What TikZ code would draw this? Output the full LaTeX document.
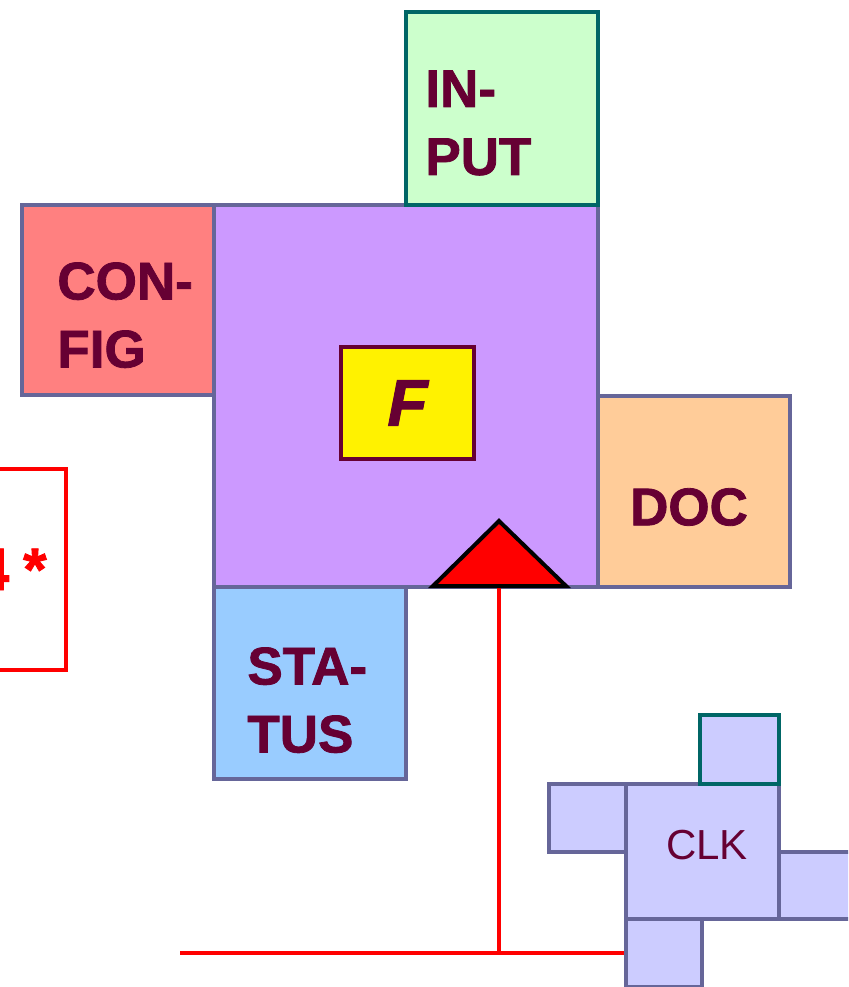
\documentclass[tikz,border=0pt]{standalone}
\usepackage{fontspec}
\setmainfont{Liberation Sans}[BoldFeatures={FakeBold=1.5}, BoldItalicFeatures={FakeBold=1.5}]
\usetikzlibrary{positioning}
\definecolor{slate}{HTML}{666699}
\definecolor{teal}{HTML}{006666}
\definecolor{maroon}{HTML}{660033}
\definecolor{lilac}{HTML}{CC99FF}
\definecolor{mint}{HTML}{CCFFCC}
\definecolor{salmon}{HTML}{FF8080}
\definecolor{peach}{HTML}{FFCC99}
\definecolor{sky}{HTML}{99CCFF}
\definecolor{lavender}{HTML}{CCCCFF}

\begin{document}
\begin{tikzpicture}[
  x=0.5pt, y=-0.5pt,
  blk/.style={draw=slate, line width=2pt, anchor=north west, inner sep=0pt, minimum width=96pt, minimum height=96pt},
  lbl/.style={font=\fontsize{26.5}{34}\selectfont\bfseries, text=maroon, align=left, inner sep=0pt},
  clkbox/.style={blk, fill=lavender},
  sig/.style={draw=red, line width=2pt},
]
\clip (0,0) rectangle (848,987);
% ---------------- main block ----------------
\node[blk, fill=lilac, minimum width=192pt, minimum height=191pt] (main) at (212,203) {};
\node[blk, draw=teal, fill=mint, minimum height=96.5pt] (input) at (404,10) {};
\node[blk, fill=salmon, minimum height=95pt] (config) at (20,203) {};
\node[blk, fill=peach, minimum height=95.5pt] (doc) at (596,394) {};
\node[blk, fill=sky] (status) at (212,585) {};

\node[lbl, anchor=north west] at ([xshift=10.5pt, yshift=-30pt]input.north west) {IN-\\PUT};
\node[lbl, anchor=north west] at ([xshift=18.5pt, yshift=-29.5pt]config.north west) {CON-\\FIG};
\node[lbl] at ([xshift=-2.5pt, yshift=-7.75pt]doc.center) {DOC};
\node[lbl, anchor=north west] at ([xshift=17.5pt, yshift=-31pt]status.north west) {STA-\\TUS};

\node[blk, draw=maroon, fill=yellow, minimum width=66.5pt, minimum height=56pt,
  font=\fontsize{33}{40}\selectfont\bfseries\itshape, text=maroon] (fbox) at (339,345) {F};

% ---------------- clock ----------------
\node[clkbox, minimum width=76.5pt, minimum height=67.5pt] (clk) at (624,782) {};
\node[clkbox, draw=teal, minimum width=39.5pt, minimum height=34.5pt] (clkN) at (698,713) {};
\node[clkbox, minimum width=38.5pt, minimum height=34pt] (clkW) at (547,782) {};
\node[clkbox, minimum width=40pt, minimum height=33.5pt] (clkE) at (777,850) {};
\node[clkbox, minimum width=38pt, minimum height=34pt] (clkS) at (624,917) {};
\node[font=\fontsize{21}{26}\selectfont, text=maroon, inner sep=0pt]
  at ([xshift=2.25pt, yshift=3.25pt]clk.center) {CLK};

% ---------------- trigger ----------------
\coordinate (trib) at (499,585);
\coordinate (bus) at (180,953);
\draw[sig] (trib) -- (trib |- bus);
\draw[sig] (bus) -- (clkS.west |- bus);
\draw[draw=black, fill=red, line width=2pt] (433,586) -- (499,521) -- (566,586) -- cycle;

% ---------------- note ----------------
\node[draw=red, line width=2pt, anchor=north east, minimum width=84pt, minimum height=100.5pt, inner sep=0pt] (note) at (68,467) {};
\node[font=\fontsize{30}{36}\selectfont\bfseries, text=red, anchor=base east, inner sep=0pt]
  at (47,590) {4\hspace{7pt}*};
\end{tikzpicture}
\end{document}
